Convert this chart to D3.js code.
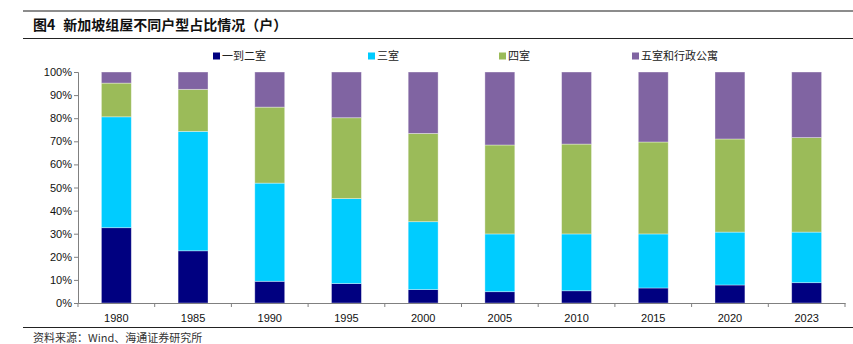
<!DOCTYPE html>
<html>
<head>
<meta charset="utf-8">
<script src="https://cdn.jsdelivr.net/npm/d3@7"></script>
<style>
	body { margin: 0; background: #fff; }
	svg { display: block; font-family: "Liberation Sans", Arial, sans-serif; }
</style>
</head>
<body>
<svg id="chart" width="853" height="344"></svg>
<script>
// years on the x axis
var years = ["1980", "1985", "1990", "1995", "2000", "2005", "2010", "2015", "2020", "2023"];

// share of each flat type, %
var oneTwoRoom = [32.6, 22.6, 9.4, 8.4, 5.8, 4.9, 5.3, 6.5, 7.8, 8.8];
var threeRoom  = [48.0, 51.7, 42.5, 36.8, 29.4, 25.0, 24.6, 23.4, 22.9, 21.9];
var fourRoom   = [14.6, 18.2, 32.9, 35.0, 38.2, 38.5, 38.9, 39.8, 40.3, 40.9];
var fiveExec   = [4.8, 7.5, 15.2, 19.8, 26.6, 31.6, 31.2, 30.3, 29.0, 28.4];

var seriesNames = ["一到二室", "三室", "四室", "五室和行政公寓"];
var seriesColors = ["#000080", "#00ccff", "#9bbb59", "#8064a2"];
var yTicks = [0, 10, 20, 30, 40, 50, 60, 70, 80, 90, 100];

var svg = d3.select("#chart");

//HEADER AND FOOTER RULES
svg.append("line").attr("x1", 23).attr("x2", 853).attr("y1", 11).attr("y2", 11)
	.attr("stroke", "#8c8c8c").attr("stroke-width", 2);
svg.append("line").attr("x1", 23).attr("x2", 853).attr("y1", 38.5).attr("y2", 38.5)
	.attr("stroke", "#222").attr("stroke-width", 1);
svg.append("line").attr("x1", 23).attr("x2", 853).attr("y1", 327.5).attr("y2", 327.5)
	.attr("stroke", "#222").attr("stroke-width", 1);

var title = svg.append("text")
	.attr("x", 33).attr("y", 30)
	.attr("font-family", "'Noto Sans CJK SC', sans-serif")
	.attr("font-size", 14).attr("font-weight", "bold").attr("fill", "#111");
title.append("tspan").text("图4");
title.append("tspan").attr("dx", 8).text("新加坡组屋不同户型占比情况（户）");

svg.append("text")
	.attr("x", 33).attr("y", 342)
	.attr("font-family", "'Noto Sans CJK SC', sans-serif")
	.attr("font-size", 11).attr("fill", "#333")
	.text("资料来源：Wind、海通证券研究所");

//LAYOUT
var margin = { top: 72, left: 78, right: 8, bottom: 41 };
var width = 853 - margin.left - margin.right;
var height = 344 - margin.top - margin.bottom;

var g = svg.append("g")
	.attr("transform", "translate(" + margin.left + "," + margin.top + ")");

var xScale = d3.scaleBand()
	.domain(years)
	.range([0, width])
	.paddingInner(0.61)
	.paddingOuter(0.305);

var yScale = d3.scaleLinear()
	.domain([0, 100])
	.range([height, 0]);

// build rows for the stack
var rows = years.map((y, i) => ({
	year: y,
	s0: oneTwoRoom[i], s1: threeRoom[i], s2: fourRoom[i], s3: fiveExec[i]
}));
var stacked = d3.stack().keys(["s0", "s1", "s2", "s3"])(rows);

g.selectAll("g.layer")
	.data(stacked)
	.enter()
	.append("g")
	.attr("class", "layer")
	.attr("fill", (d, i) => seriesColors[i])
	.selectAll("rect")
	.data(d => d)
	.enter()
	.append("rect")
	.attr("x", d => xScale(d.data.year))
	.attr("y", d => yScale(d[1]))
	.attr("width", xScale.bandwidth())
	.attr("height", d => yScale(d[0]) - yScale(d[1]))
	.attr("stroke", "#ffffff")
	.attr("stroke-opacity", 0.45)
	.attr("stroke-width", 0.8);

//y axis
var yAxis = d3.axisLeft(yScale)
	.tickValues(yTicks)
	.tickSize(4)
	.tickFormat(d => d + "%");

var yG = g.append("g").attr("class", "yAxis").call(yAxis);
yG.select(".domain").attr("stroke", "#808080");
yG.selectAll(".tick line").attr("stroke", "#808080");
yG.selectAll(".tick text").attr("font-size", 11).attr("fill", "#111").attr("x", -6)
	.attr("font-family", "'Liberation Sans', Arial, sans-serif");

//x axis, ticks sit between the categories
var xAxis = d3.axisBottom(xScale).tickSize(0).tickPadding(11);
var xG = g.append("g").attr("class", "xAxis")
	.attr("transform", "translate(0," + height + ")")
	.call(xAxis);
xG.select(".domain").attr("stroke", "#808080");
xG.selectAll(".tick text").attr("font-size", 11).attr("fill", "#111")
	.attr("font-family", "'Liberation Sans', Arial, sans-serif");

var step = xScale.step();
xG.selectAll("line.sep")
	.data(d3.range(years.length + 1))
	.enter()
	.append("line")
	.attr("class", "sep")
	.attr("x1", i => i * step).attr("x2", i => i * step)
	.attr("y1", 0).attr("y2", 4)
	.attr("stroke", "#808080");

//legend
var legendX = [213, 368, 499, 632];
var legend = svg.selectAll("g.legend")
	.data(seriesNames)
	.enter()
	.append("g")
	.attr("class", "legend")
	.attr("transform", (d, i) => "translate(" + legendX[i] + ",56)");

legend.append("rect")
	.attr("x", 0).attr("y", -3.5)
	.attr("width", 7).attr("height", 7)
	.attr("fill", (d, i) => seriesColors[i]);

legend.append("text")
	.attr("x", 9).attr("y", 4)
	.attr("font-family", "'Noto Sans CJK SC', sans-serif")
	.attr("font-size", 11).attr("fill", "#222")
	.text(d => d);
</script>
</body>
</html>
